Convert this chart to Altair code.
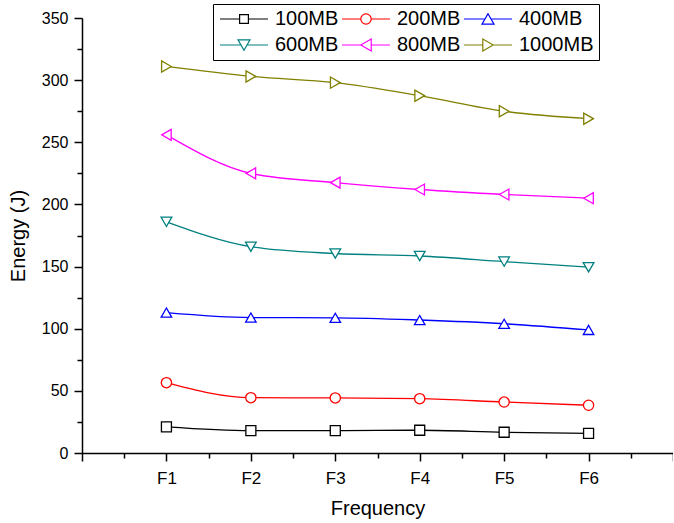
import altair as alt
import pandas as pd

series = ["100MB", "200MB", "400MB", "600MB", "800MB", "1000MB"]
freq_labels = ["F1", "F2", "F3", "F4", "F5", "F6"]
freq_pos = [1, 2, 3, 4, 5, 6]
v100 = [21, 18, 18, 18.3, 16.7, 15.8]
v200 = [56.6, 44.5, 44.3, 43.7, 41, 38.4]
v400 = [113, 109, 108.8, 107, 104, 99]
v600 = [186, 166, 160.5, 158.5, 154, 149.5]
v800 = [256, 225, 217.5, 212, 208, 205]
v1000 = [311, 303, 298, 287.5, 275, 269]

colors = ["#000000", "#FF0000", "#0000FF", "#008080", "#FF00FF", "#808000"]
shapes = ["square", "circle", "triangle-up", "triangle-down", "triangle-left", "triangle-right"]
marker_sizes = [100, 125, 160, 160, 160, 160]

rows = []
for s, vals in zip(series, [v100, v200, v400, v600, v800, v1000]):
    for p, lab, v in zip(freq_pos, freq_labels, vals):
        rows.append({"Series": s, "Marker": s, "pos": p, "freq": lab, "Energy": v})
df = pd.DataFrame(rows)

legend_paths = {
    "100MB": "M-3,0H-0.55M0.55,0H3M-0.55,-0.55H0.55V0.55H-0.55Z",
    "200MB": "M-3,0H-0.65M0.65,0H3M-0.65,0A0.65,0.65 0 1,0 0.65,0A0.65,0.65 0 1,0 -0.65,0Z",
    "400MB": "M-3,0H-0.375M0.375,0H3M0,-0.65L0.75,0.65H-0.75Z",
    "600MB": "M-3,0H-0.375M0.375,0H3M0,0.65L0.75,-0.65H-0.75Z",
    "800MB": "M-3,0H-0.65M0.65,0H3M-0.65,0L0.65,-0.75V0.75Z",
    "1000MB": "M-3,0H-0.65M0.65,0H3M0.65,0L-0.65,-0.75V0.75Z",
}
shape_expr = " : ".join(f"datum.value === '{k}' ? '{v}'" for k, v in legend_paths.items()) + " : 'circle'"

FONT = "Liberation Sans"

x_enc = alt.X(
    "pos:Q",
    scale=alt.Scale(domain=[0, 7], nice=False, zero=False),
    axis=alt.Axis(
        title="Frequency",
        values=[i * 0.5 for i in range(15)],
        labelExpr="datum.value >= 1 && datum.value <= 6 && datum.value % 1 === 0 ? 'F' + datum.value : ''",
        tickSize={"condition": {"test": "datum.value % 1 === 0", "value": 8}, "value": 5},
        grid=False,
        domainColor="black",
        domainWidth=1.5,
        tickColor="black",
        tickWidth=1.5,
        labelFont=FONT,
        labelFontSize=17,
        labelColor="black",
        labelPadding=9,
        titleFont=FONT,
        titleFontSize=20,
        titleFontWeight="normal",
        titleColor="black",
        titlePadding=12,
        labelFlush=False,
        labelOverlap=False,
    ),
)
y_enc = alt.Y(
    "Energy:Q",
    scale=alt.Scale(domain=[0, 350], nice=False),
    axis=alt.Axis(
        title="Energy (J)",
        values=[i * 25 for i in range(15)],
        labelExpr="datum.value % 50 === 0 ? datum.value : ''",
        tickSize={"condition": {"test": "datum.value % 50 === 0", "value": 8}, "value": 5},
        grid=False,
        domainColor="black",
        domainWidth=1.5,
        tickColor="black",
        tickWidth=1.5,
        labelFont=FONT,
        labelFontSize=16,
        labelColor="black",
        labelPadding=6,
        titleFont=FONT,
        titleFontSize=20,
        titleFontWeight="normal",
        titleColor="black",
        titlePadding=13,
        labelFlush=False,
        labelOverlap=False,
    ),
)

color_scale = alt.Scale(domain=series, range=colors)

lines = alt.Chart(df).mark_line(interpolate="monotone", strokeWidth=1.3).encode(
    x=x_enc,
    y=y_enc,
    color=alt.Color("Series:N", scale=color_scale, sort=series),
    detail="Series:N",
)

points = alt.Chart(df).mark_point(filled=False, fill="white", strokeWidth=1.3, opacity=1).encode(
    x=x_enc,
    y=y_enc,
    color=alt.Color(
        "Series:N",
        scale=color_scale,
        sort=series,
        legend=alt.Legend(
            title=None,
            orient="none",
            legendX=131,
            legendY=-14,
            columns=3,
            direction="horizontal",
            strokeColor="black",
            fillColor="white",
            padding=5,
            symbolSize=256,
            symbolOffset=16,
            labelOffset=21,
            symbolStrokeWidth=1.2,
            symbolFillColor="white",
            symbolType=alt.ExprRef(expr=shape_expr),
            labelFont=FONT,
            labelFontSize=20,
            labelColor="black",
            labelLimit=200,
            columnPadding=0,
            rowPadding=6,
        ),
    ),
    shape=alt.Shape("Marker:N", sort=series, scale=alt.Scale(range=shapes), legend=None),
    size=alt.Size("Marker:N", sort=series, scale=alt.Scale(range=marker_sizes), legend=None),
)

chart = alt.layer(lines, points).properties(
    width=591,
    height=435,
    autosize=alt.AutoSizeParams(type="none"),
    padding={"left": 82, "top": 18, "right": 0, "bottom": 70},
    background="white",
).configure_view(stroke=None)

chart.save("out.html", embed_options={"renderer": "svg", "actions": False})
